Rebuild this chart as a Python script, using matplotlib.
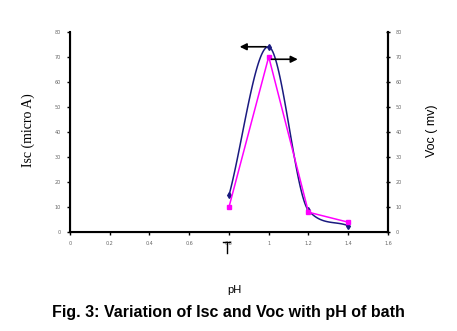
import numpy as np
import matplotlib
matplotlib.use('Agg')
import matplotlib.pyplot as plt
from matplotlib.lines import Line2D

# Datos
ph = np.array([0.8, 1.0, 1.2, 1.4])
isc = np.array([14.5, 74.0, 8.5, 2.4])   # micro A (azul)
voc = np.array([9.8, 70.0, 7.8, 3.8])    # mV (magenta)

x_ticks = [0, 0.2, 0.4, 0.6, 0.8, 1, 1.2, 1.4, 1.6]
x_labels = ['0', '0.2', '0.4', '0.6', '0.8', '1', '1.2', '1.4', '1.6']
y_ticks = [0, 10, 20, 30, 40, 50, 60, 70, 80]


# Curva suave (Hermite con tangentes limitadas) solo para dibujar la línea azul
def smooth_line(x, y, n=40):
    sec = np.diff(y) / np.diff(x)
    m = np.gradient(y, x)
    for i in range(1, len(x) - 1):
        lim = 3 * min(abs(sec[i - 1]), abs(sec[i]))
        m[i] = np.clip(m[i], -lim, lim)
    xs, ys = [], []
    for i in range(len(x) - 1):
        h = x[i + 1] - x[i]
        t = np.linspace(0, 1, n)
        h00 = 2 * t**3 - 3 * t**2 + 1
        h10 = t**3 - 2 * t**2 + t
        h01 = -2 * t**3 + 3 * t**2
        h11 = t**3 - t**2
        xs.append(x[i] + t * h)
        ys.append(h00 * y[i] + h10 * h * m[i] + h01 * y[i + 1] + h11 * h * m[i + 1])
    return np.concatenate(xs), np.concatenate(ys)


fig = plt.figure(figsize=(4.57, 3.31), dpi=100)
ax = fig.add_axes([0.153, 0.300, 0.696, 0.604])

xs, ys = smooth_line(ph, isc)
ax.plot(xs, ys, color='#1a1a80', lw=1.1)
ax.plot(ph, isc, 'd', color='#1a1a80', ms=3)

ax.plot(ph, voc, '-', color='#ff00ff', lw=1.1)
ax.plot(ph, voc, 's', color='#ff00ff', ms=3.5)

# Flechas que indican el eje de cada curva
ax.annotate('', xy=(0.84, 74), xytext=(1.0, 74),
            arrowprops=dict(arrowstyle='-|>', color='black', lw=1.2, mutation_scale=10))
ax.annotate('', xy=(1.16, 69), xytext=(1.0, 69),
            arrowprops=dict(arrowstyle='-|>', color='black', lw=1.2, mutation_scale=10))

ax.set_xlim(0, 1.6)
ax.set_ylim(0, 80)
ax.set_xticks(x_ticks)
ax.set_xticklabels(x_labels)
ax.set_yticks(y_ticks)
ax.spines['top'].set_visible(False)
for s in ['left', 'bottom', 'right']:
    ax.spines[s].set_linewidth(1.5)
ax.tick_params(axis='both', labelsize=3.5, labelcolor='#666666', length=2.5, width=1,
               direction='out', pad=4)

ax2 = ax.twinx()
ax2.set_ylim(0, 80)
ax2.set_yticks(y_ticks)
ax2.spines['top'].set_visible(False)
ax2.spines['right'].set_linewidth(1.5)
ax2.tick_params(axis='y', labelsize=3.5, labelcolor='#666666', length=3, width=1,
                direction='inout', pad=4)

fig.text(0.061, 0.607, 'Isc (micro A)', rotation=90, ha='center', va='center',
         family='Liberation Serif', fontsize=10)
fig.text(0.946, 0.604, 'Voc ( mv)', rotation=90, ha='center', va='center',
         family='Liberation Sans', fontsize=9)

fig.add_artist(Line2D([0.496, 0.496], [0.236, 0.27], color='black', lw=1))
fig.add_artist(Line2D([0.489, 0.503], [0.27, 0.27], color='black', lw=1))

fig.text(0.512, 0.123, 'pH', ha='center', va='center', family='Liberation Sans',
         fontsize=8)
fig.text(0.5, 0.055, 'Fig. 3: Variation of Isc and Voc with pH of bath', ha='center',
         va='center', family='Liberation Sans', fontsize=11.5, fontweight='bold')

fig.savefig('out.png', dpi=100)
